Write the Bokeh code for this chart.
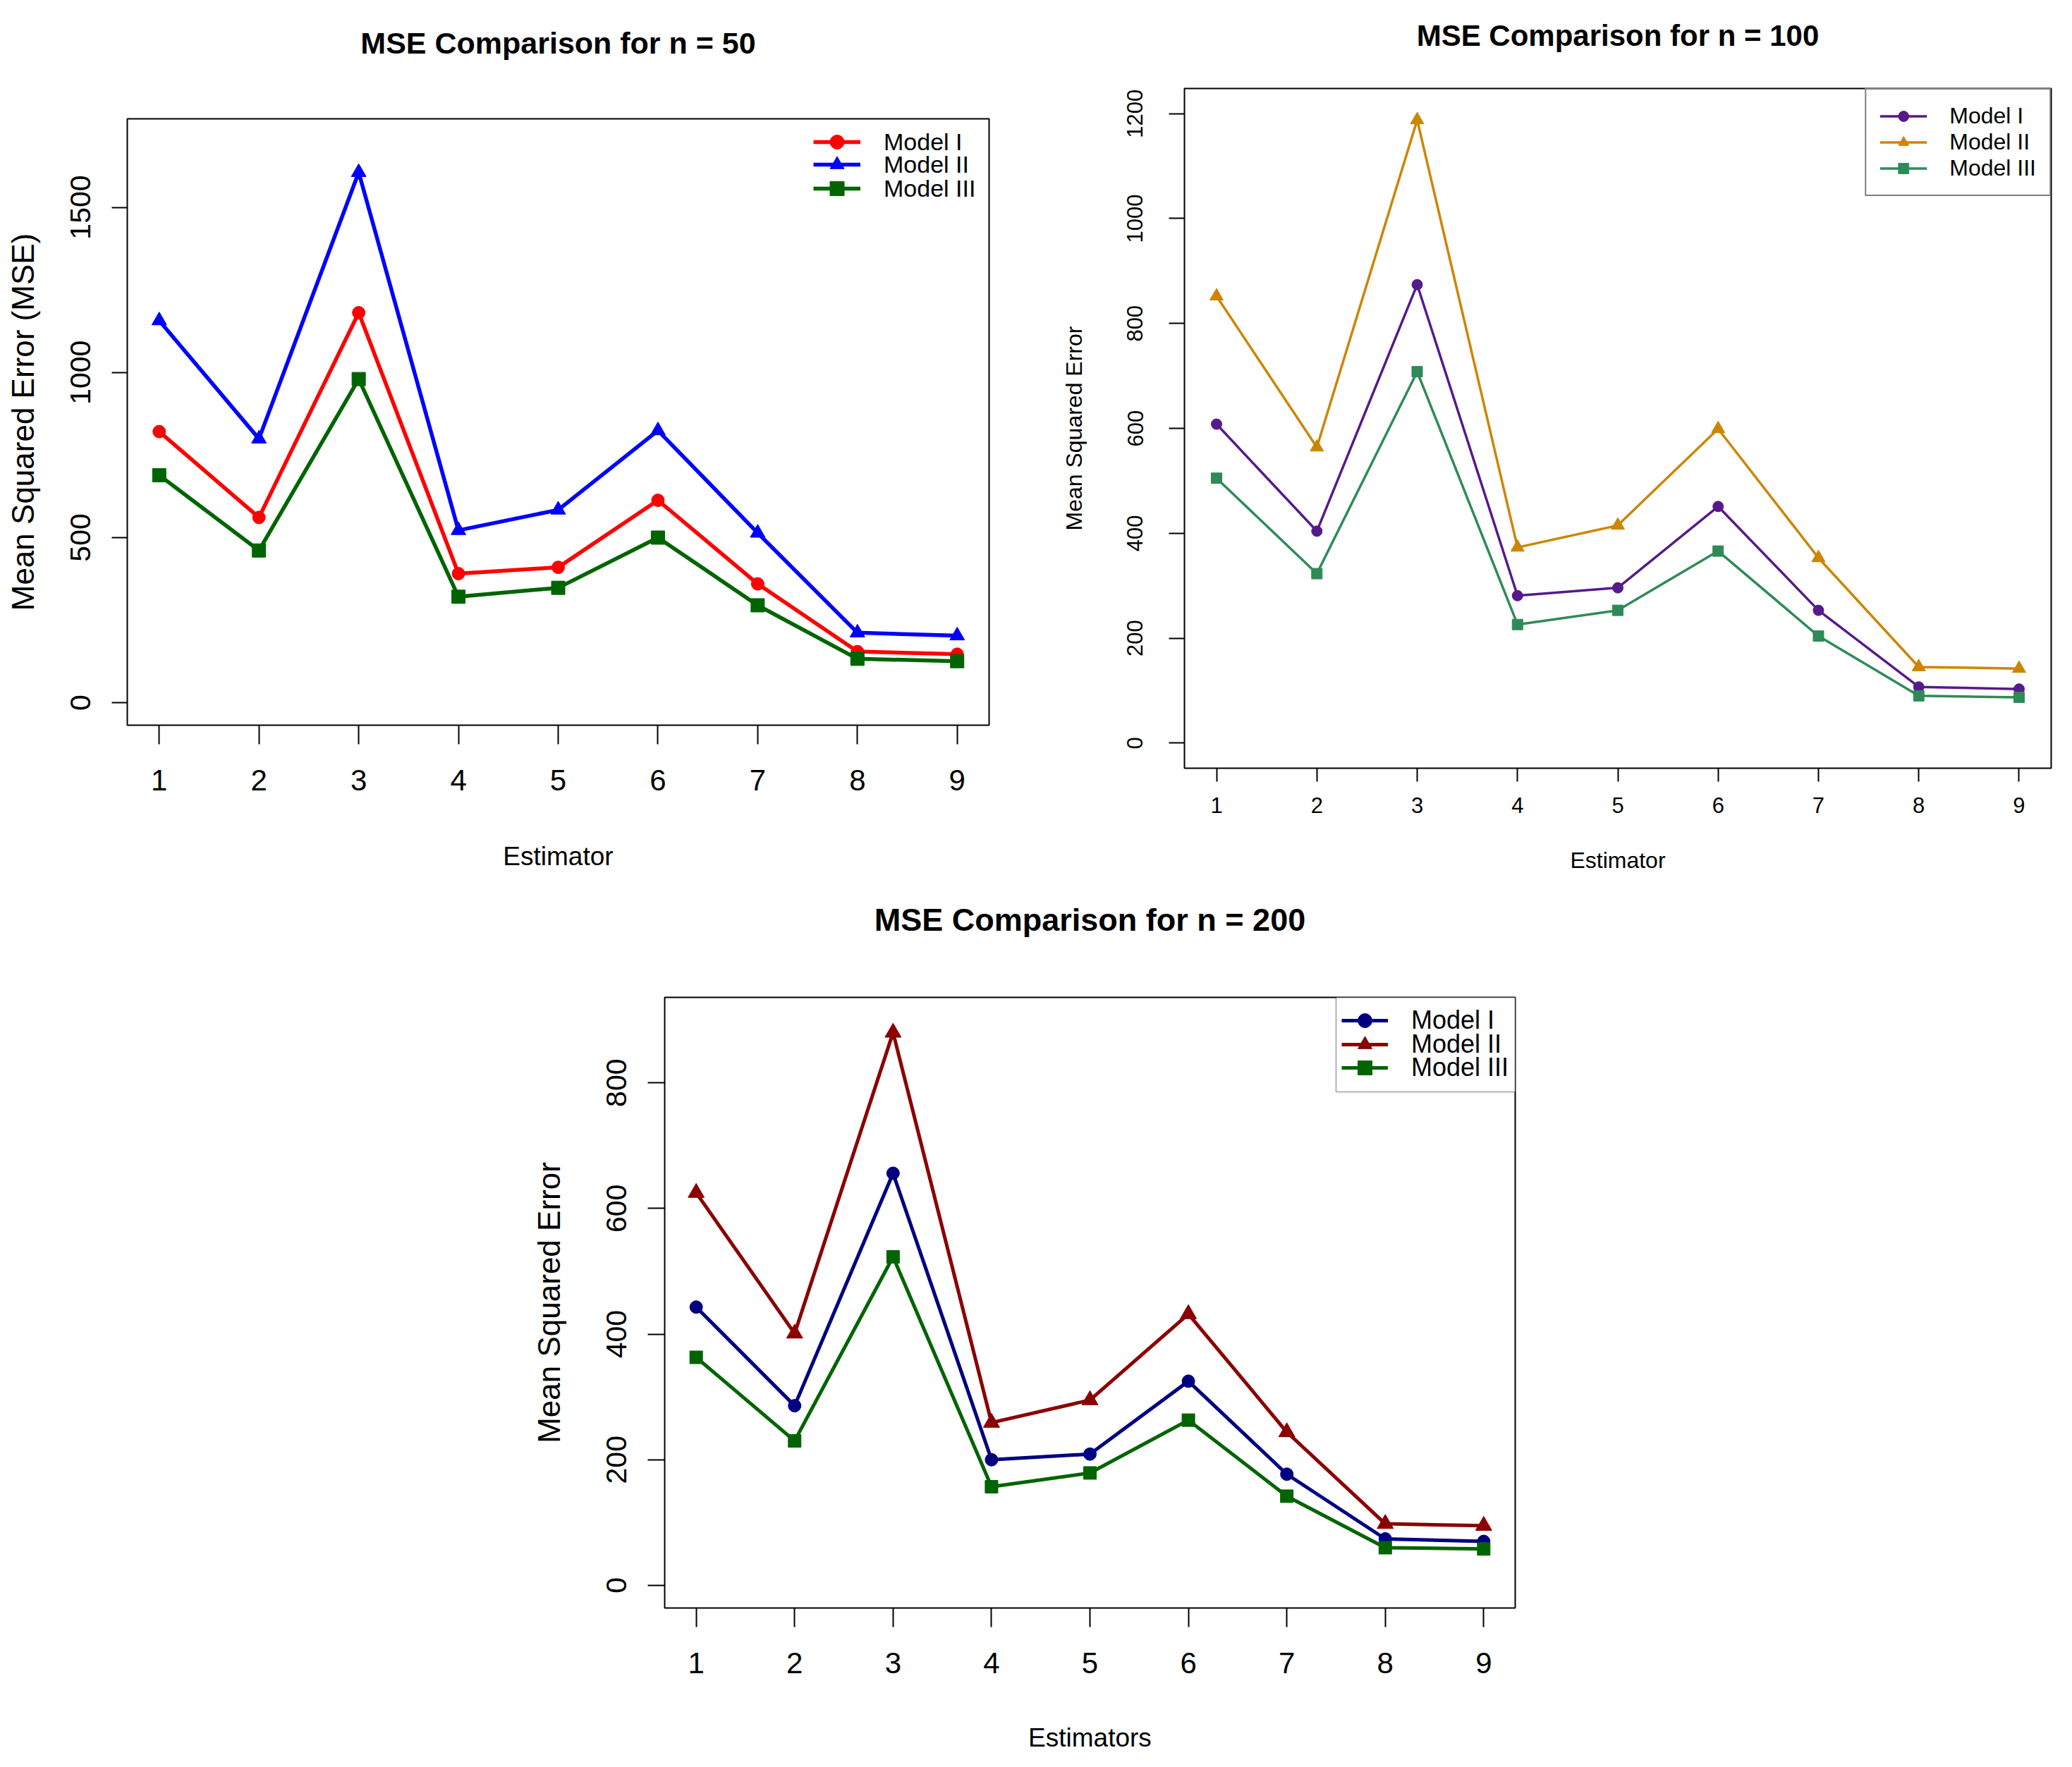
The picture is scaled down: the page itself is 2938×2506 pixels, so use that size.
from bokeh.plotting import figure
from bokeh.models import (Range1d, FixedTicker, Legend, LegendItem, Spacer,
                          BoxAnnotation, LinearAxis)
from bokeh.layouts import column, row
from bokeh.embed import file_html
from bokeh.resources import INLINE

# ---------------- data ----------------
estimators = [1, 2, 3, 4, 5, 6, 7, 8, 9]
model_labels = ["Model I", "Model II", "Model III"]

n50_model1 = [821, 561, 1181, 391, 410, 613, 360, 155, 147]
n50_model2 = [1157, 799, 1606, 522, 584, 824, 514, 212, 203]
n50_model3 = [689, 461, 980, 321, 348, 500, 295, 133, 126]

n100_model1 = [608, 404, 874, 281, 296, 451, 253, 107, 103]
n100_model2 = [852, 564, 1188, 373, 415, 599, 353, 145, 142]
n100_model3 = [505, 323, 708, 226, 253, 366, 204, 90, 87]

n200_model1 = [443, 286, 656, 200, 209, 325, 177, 74, 70]
n200_model2 = [625, 401, 880, 259, 295, 432, 244, 98, 95]
n200_model3 = [363, 230, 523, 157, 179, 263, 142, 60, 58]

yticks_50 = [0, 500, 1000, 1500]
yticks_100 = [0, 200, 400, 600, 800, 1000, 1200]
yticks_200 = [0, 200, 400, 600, 800]

REG = "'Liberation Sans', Arial, sans-serif"
markers = ["circle", "triangle", "square"]


def make_panel(title, series, colors, yticks, ymax, xlabel, ylabel, cfg):
    x0, x1 = 1 - 0.04 * 8, 9 + 0.04 * 8
    y0, y1 = -0.04 * ymax, 1.04 * ymax
    px_x = cfg["fw"] / (x1 - x0)
    px_y = cfg["fh"] / (y1 - y0)

    p = figure(title=None, frame_width=cfg["fw"], frame_height=cfg["fh"],
               min_border_left=cfg["bl"], min_border_right=cfg["br"],
               min_border_top=cfg["bt"], min_border_bottom=cfg["bb"],
               x_range=Range1d(x0, x1), y_range=Range1d(y0, y1),
               output_backend="svg", toolbar_location=None,
               background_fill_color="white", border_fill_color="white")
    p.xgrid.visible = False
    p.ygrid.visible = False
    p.outline_line_color = "black"
    p.outline_line_width = 2

    for ax, ticks, tout in ((p.xaxis[0], estimators, cfg["xtout"]), (p.yaxis[0], yticks, cfg["ytout"])):
        ax.ticker = FixedTicker(ticks=ticks)
        ax.axis_line_color = None
        ax.major_tick_in = 0
        ax.major_tick_out = tout
        ax.major_tick_line_width = 2
        ax.major_tick_line_color = "black"
        ax.minor_tick_line_color = None
        ax.major_label_text_color = "black"
        ax.axis_label_text_color = "black"
        ax.axis_label_text_font_style = "normal"

    p.xaxis.axis_label = xlabel
    p.xaxis.major_label_text_font = REG
    p.xaxis.major_label_text_font_size = cfg["xtsize"]
    p.xaxis.major_label_standoff = cfg["xtstand"]
    p.xaxis.axis_label_text_font = REG
    p.xaxis.axis_label_text_font_size = cfg["xlsize"]
    p.xaxis.axis_label_standoff = cfg["xlstand"]

    p.yaxis.axis_label = ylabel
    p.yaxis.major_label_orientation = "vertical"
    p.yaxis.major_label_text_font = REG
    p.yaxis.major_label_text_font_size = cfg["ytsize"]
    p.yaxis.major_label_standoff = cfg["ytstand"]
    p.yaxis.axis_label_text_font = REG
    p.yaxis.axis_label_text_font_size = cfg["ylsize"]
    p.yaxis.axis_label_standoff = cfg["ylstand"]

    # main title, drawn as the label of a tick-less axis above the frame
    tax = LinearAxis(ticker=FixedTicker(ticks=[]), axis_label=title,
                     axis_line_color=None, major_tick_line_color=None,
                     minor_tick_line_color=None, major_tick_out=0, major_tick_in=0,
                     major_label_standoff=0, major_label_text_font_size="0px",
                     axis_label_standoff=cfg["tstand"],
                     axis_label_text_font=REG, axis_label_text_font_style="bold",
                     axis_label_text_font_size=cfg["tsize"],
                     axis_label_text_color="black")
    p.add_layout(tax, "above")

    items = []
    for vals, col, mk, lab in zip(series, colors, markers, model_labels):
        lr = p.line(estimators, vals, line_color=col, line_width=cfg["lw"])
        sr = p.scatter(estimators, vals, marker=mk, size=cfg["msize"][mk],
                       fill_color=col, line_color=col, line_width=1)
        items.append(LegendItem(label=lab, renderers=[lr, sr]))

    lg = cfg["leg"]
    if lg["mode"] == "single":
        p.add_layout(Legend(items=items, location="top_right", margin=0,
                            padding=lg["pad"], spacing=0,
                            glyph_width=lg["gw"], glyph_height=lg["gh"],
                            label_height=lg["gh"], label_width=lg["lw"],
                            label_standoff=lg["stand"],
                            label_text_font=REG, label_text_font_size=lg["size"],
                            label_text_color="black",
                            background_fill_color="white", background_fill_alpha=1.0,
                            border_line_color="black", border_line_width=2))
    else:
        if lg["box"] is not None:
            bx_left, bx_h = lg["box"]
            p.add_layout(BoxAnnotation(left=x0 + bx_left / px_x, right=x1,
                                       top=y1, bottom=y1 - bx_h / px_y,
                                       fill_color="white", fill_alpha=1.0,
                                       line_color="black", line_width=2))
        H = lg["gh"]
        for it, d in zip(items, lg["rows"]):
            p.add_layout(Legend(items=[it], location=(lg["gx"], cfg["fh"] - d - H / 2),
                                margin=0, padding=0, spacing=0,
                                glyph_width=lg["gw"], glyph_height=H,
                                label_height=H, label_standoff=lg["stand"],
                                label_text_font=REG, label_text_font_size=lg["size"],
                                label_text_color="black",
                                background_fill_alpha=0.0, border_line_color=None))
    return p


cfg1 = dict(fw=1222, fh=860, bl=180, br=40, bt=168, bb=234,
            tsize="43px", tstand=84,
            xtout=27, ytout=22, xtsize="42px", xtstand=36,
            xlsize="37px", xlstand=70, ytsize="41px", ytstand=30,
            ylsize="44px", ylstand=41, lw=5.5,
            msize={"circle": 18, "triangle": 21, "square": 19},
            leg=dict(mode="multi", box=None, gx=973, rows=[33, 65, 99],
                     gw=67, gh=50, stand=33, size="34px"))

cfg2 = dict(fw=1229, fh=964, bl=237, br=22, bt=125, bb=173,
            tsize="42px", tstand=52,
            xtout=19, ytout=22, xtsize="31px", xtstand=22,
            xlsize="32px", xlstand=46, ytsize="31px", ytstand=37,
            ylsize="32px", ylstand=55, lw=3.5,
            msize={"circle": 15, "triangle": 19, "square": 15},
            leg=dict(mode="single", pad=19, gw=67, gh=37, lw=120, stand=32,
                     size="32px"))

cfg3 = dict(fw=1206, fh=866, bl=208, br=40, bt=152, bb=222,
            tsize="45px", tstand=85,
            xtout=27, ytout=24, xtsize="42px", xtstand=36,
            xlsize="37px", xlstand=68, ytsize="41px", ytstand=30,
            ylsize="44px", ylstand=55, lw=5,
            msize={"circle": 18, "triangle": 23, "square": 18},
            leg=dict(mode="multi", box=(952, 134), gx=960, rows=[33, 67, 100],
                     gw=66, gh=50, stand=33, size="36px"))

p1 = make_panel("MSE Comparison for n = 50",
                [n50_model1, n50_model2, n50_model3],
                ["#FF0000", "#0000FF", "#006400"], yticks_50, 1700,
                "Estimator", "Mean Squared Error (MSE)", cfg1)
p2 = make_panel("MSE Comparison for n = 100",
                [n100_model1, n100_model2, n100_model3],
                ["#551A8B", "#CD8500", "#2E8B57"], yticks_100, 1200,
                "Estimator", "Mean Squared Error", cfg2)
p3 = make_panel("MSE Comparison for n = 200",
                [n200_model1, n200_model2, n200_model3],
                ["#000080", "#8B0000", "#006400"], yticks_200, 900,
                "Estimators", "Mean Squared Error", cfg3)

layout = column(row(column(p1), column(p2)),
                row(Spacer(width=734, height=10), p3))

open("out.html", "w").write(file_html(layout, INLINE))
